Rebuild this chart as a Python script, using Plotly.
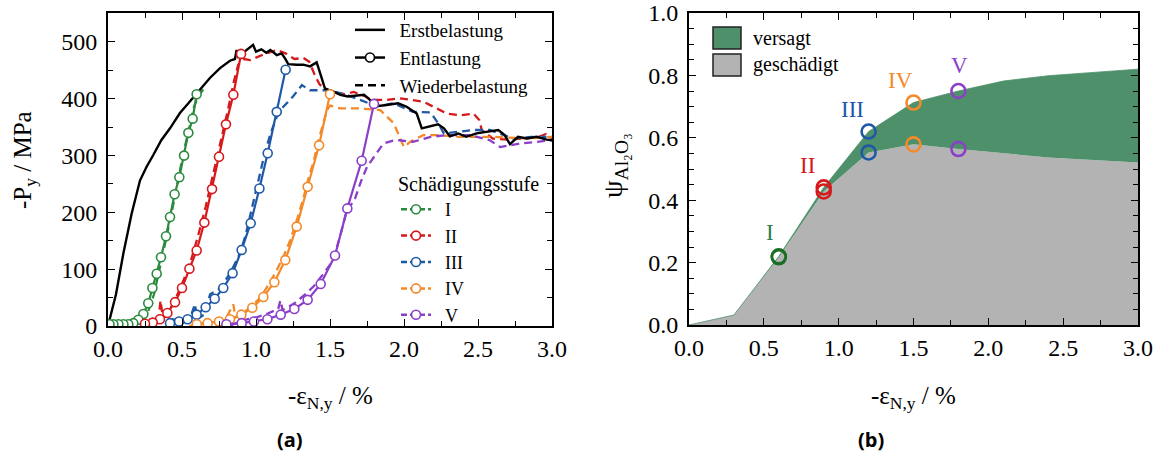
import plotly.graph_objects as go

W, H = 1165, 455

# ---------------- (a) load-strain curves ----------------
first_x = [0, 0.054, 0.104, 0.16, 0.216, 0.26, 0.306, 0.36, 0.419, 0.486, 0.543, 0.60, 0.69, 0.757,
           0.824, 0.858, 0.869, 0.88, 0.937, 0.98, 1.0, 1.036, 1.07, 1.097, 1.14, 1.173, 1.196, 1.218,
           1.275, 1.32, 1.365, 1.41, 1.437, 1.466, 1.52, 1.57, 1.62, 1.68, 1.73, 1.77, 1.815, 1.883,
           1.96, 2.018, 2.086, 2.12, 2.164, 2.23, 2.27, 2.31, 2.367, 2.42, 2.49, 2.56, 2.637, 2.68,
           2.716, 2.77, 2.83, 2.896, 2.964, 3.0]
first_y = [0, 56, 128, 198, 256, 280, 301, 327, 348, 375, 392, 410, 437, 454,
           467, 470, 486, 474, 486, 495, 483, 487, 481, 486, 477, 480, 471, 461,
           460, 460, 457, 464, 442, 418, 413, 407, 404, 406, 407, 398, 387, 389,
           392, 386, 374, 348, 351, 355, 348, 334, 339, 333, 339, 342, 345, 336,
           320, 333, 330, 333, 328, 327]

stages = ["I", "II", "III", "IV", "V"]
colors = ["#2b8a3e", "#d7191c", "#1f58a6", "#f4892a", "#8b3fc9"]

# unloading branches (Entlastung)
unload_x = [
    [0.599, 0.572, 0.543, 0.514, 0.482, 0.450, 0.419, 0.392, 0.358, 0.329, 0.300, 0.272, 0.239,
     0.205, 0.171, 0.137, 0.104, 0.070, 0.036, 0.010],
    [0.899, 0.847, 0.797, 0.750, 0.703, 0.651, 0.599, 0.550, 0.500, 0.453, 0.401, 0.351, 0.302, 0.250],
    [1.200, 1.140, 1.079, 1.023, 0.964, 0.903, 0.842, 0.779, 0.721, 0.660, 0.599, 0.538, 0.480, 0.419],
    [1.500, 1.426, 1.349, 1.275, 1.198, 1.124, 1.050, 0.975, 0.901, 0.824, 0.750, 0.673, 0.600],
    [1.797, 1.714, 1.617, 1.534, 1.437, 1.349, 1.259, 1.167, 1.077, 0.986, 0.903, 0.800],
]
unload_y = [
    [408, 365, 340, 300, 262, 232, 192, 158, 121, 92, 67, 40, 21, 11, 5, 3, 3, 3, 3, 3],
    [479, 407, 355, 298, 241, 182, 133, 101, 67, 42, 23, 12, 6, 4],
    [451, 377, 304, 242, 181, 134, 93, 67, 48, 33, 20, 12, 8, 5],
    [408, 318, 245, 175, 116, 77, 51, 32, 20, 12, 8, 5, 3],
    [391, 291, 207, 124, 74, 46, 30, 20, 12, 8, 5, 3],
]

# reloading branches (Wiederbelastung)
reload_x = [
    [0.05, 0.15, 0.22, 0.27, 0.31, 0.35, 0.39, 0.43, 0.47, 0.51, 0.55, 0.58, 0.61, 0.66],
    [0.25, 0.30, 0.34, 0.355, 0.37, 0.41, 0.46, 0.51, 0.56, 0.61, 0.66, 0.71, 0.76, 0.81, 0.85,
     0.88, 0.92, 0.96, 1.05, 1.14, 1.2, 1.26, 1.32, 1.36, 1.40, 1.43, 1.47, 1.52, 1.60, 1.66,
     1.74, 1.78, 1.88, 1.97, 2.13, 2.20, 2.29, 2.38, 2.47, 2.51, 2.525, 2.60, 2.70, 2.80, 2.90,
     2.96, 3.0],
    [0.42, 0.45, 0.47, 0.50, 0.55, 0.588, 0.60, 0.65, 0.69, 0.75, 0.824, 0.89, 0.93, 0.98, 1.02,
     1.06, 1.10, 1.14, 1.185, 1.25, 1.31, 1.365, 1.43, 1.50, 1.61, 1.70, 1.815, 1.93, 2.06, 2.18,
     2.23, 2.27, 2.37, 2.47, 2.58, 2.65, 2.74, 2.86, 3.0],
    [0.55, 0.62, 0.70, 0.80, 0.847, 0.86, 0.95, 1.03, 1.09, 1.14, 1.19, 1.23, 1.28, 1.32, 1.36,
     1.39, 1.42, 1.455, 1.48, 1.50, 1.57, 1.70, 1.84, 1.93, 1.97, 2.0, 2.04, 2.13, 2.22, 2.38,
     2.6, 2.85, 3.0],
    [0.82, 0.91, 1.0, 1.08, 1.15, 1.165, 1.18, 1.26, 1.33, 1.39, 1.45, 1.52, 1.57, 1.61, 1.67,
     1.71, 1.75, 1.815, 1.86, 1.92, 1.97, 2.06, 2.18, 2.29, 2.45, 2.58, 2.65, 2.78, 2.9, 3.0],
]
reload_y = [
    [0, 2, 8, 25, 55, 100, 150, 200, 255, 305, 350, 385, 405, 422],
    [2, 3, 8, 45, 15, 25, 50, 80, 115, 160, 210, 265, 320, 380, 430,
     460, 470, 468, 478, 486, 480, 470, 472, 465, 440, 425, 418, 410, 408, 412,
     404, 398, 398, 401, 395, 386, 374, 371, 374, 362, 345, 330, 328, 330, 332,
     338, 330],
    [1, 18, 3, 5, 10, 39, 12, 20, 56, 65, 92, 127, 160, 215, 260,
     305, 340, 368, 386, 404, 424, 415, 415, 415, 407, 398, 387, 392, 377, 376,
     357, 339, 342, 345, 345, 339, 330, 333, 333],
    [0, 4, 8, 15, 38, 15, 30, 50, 75, 98, 125, 150, 190, 225, 265,
     290, 325, 355, 380, 388, 383, 383, 380, 357, 333, 315, 324, 336, 336, 333,
     333, 330, 333],
    [0, 10, 15, 22, 30, 45, 28, 40, 55, 70, 90, 115, 160, 200, 225,
     255, 280, 304, 321, 326, 327, 324, 333, 336, 336, 327, 315, 321, 324, 327],
]

# ---------------- (b) damage fractions ----------------
psi_x = [0, 0.3, 0.6, 0.9, 1.2, 1.5, 1.8, 2.1, 2.4, 3.0]
psi_damaged = [0, 0.032, 0.217, 0.428, 0.553, 0.579, 0.564, 0.550, 0.537, 0.521]
psi_total = [0, 0.032, 0.220, 0.441, 0.620, 0.713, 0.750, 0.782, 0.799, 0.820]
stage_strain = [0.6, 0.9, 1.2, 1.5, 1.8]
stage_damaged = [0.217, 0.428, 0.553, 0.579, 0.564]
stage_total = [0.220, 0.441, 0.620, 0.713, 0.750]
stage_label_x = [0.54, 0.79, 1.09, 1.414, 1.806]
stage_label_y = [0.295, 0.51, 0.692, 0.785, 0.833]
b_colors = ["#1c6e24", "#d7191c", "#1f58a6", "#f4892a", "#8b3fc9"]
b_label_colors = ["#2e7d4f", "#d7191c", "#1f58a6", "#f4892a", "#8b3fc9"]

SERIF = "Liberation Serif, Times New Roman, serif"
DASH = "8px,5px"
GAP = "\u00a0\u00a0"   # extra space between legend symbol and label


def px_x(p):
    return p / W


def px_y(p):
    return 1 - p / H


fig = go.Figure()

# reloading (dashed)
for i, s in enumerate(stages):
    fig.add_trace(go.Scatter(
        x=reload_x[i], y=reload_y[i], mode="lines",
        line=dict(color=colors[i], width=2.3, dash=DASH),
        showlegend=False, xaxis="x", yaxis="y"))

# first loading
fig.add_trace(go.Scatter(
    x=first_x, y=first_y, mode="lines", line=dict(color="black", width=2.4),
    showlegend=False, xaxis="x", yaxis="y"))

# unloading with markers
for i, s in enumerate(stages):
    fig.add_trace(go.Scatter(
        x=unload_x[i], y=unload_y[i], mode="lines+markers",
        line=dict(color=colors[i], width=2.2),
        marker=dict(symbol="circle", size=9, color="white",
                    line=dict(color=colors[i], width=1.6)),
        showlegend=False, xaxis="x", yaxis="y"))

# legend entries: line styles
fig.add_trace(go.Scatter(x=[None], y=[None], mode="lines", name=GAP + "Erstbelastung",
                         line=dict(color="black", width=2.5), legend="legend"))
fig.add_trace(go.Scatter(x=[None], y=[None], mode="lines+markers", name=GAP + "Entlastung",
                         line=dict(color="black", width=2.5),
                         marker=dict(symbol="circle", size=9, color="white",
                                     line=dict(color="black", width=1.6)),
                         legend="legend"))
fig.add_trace(go.Scatter(x=[None], y=[None], mode="lines", name=GAP + "Wiederbelastung",
                         line=dict(color="black", width=2.5, dash=DASH), legend="legend"))
# legend entries: damage stages
for i, s in enumerate(stages):
    fig.add_trace(go.Scatter(x=[None], y=[None], mode="lines+markers", name=GAP + s,
                             line=dict(color=colors[i], width=2.5, dash="6px,3px"),
                             marker=dict(symbol="circle", size=9, color="white",
                                         line=dict(color=colors[i], width=1.6)),
                             legend="legend2"))

# (b) areas
fig.add_trace(go.Scatter(x=psi_x, y=psi_damaged, mode="lines", fill="tozeroy",
                         fillcolor="#b3b3b3", line=dict(width=0, color="#b3b3b3"),
                         showlegend=False, xaxis="x2", yaxis="y2"))
fig.add_trace(go.Scatter(x=psi_x, y=psi_total, mode="lines", fill="tonexty",
                         fillcolor="#4e9069", line=dict(width=0.8, color="#4e9069"),
                         showlegend=False, xaxis="x2", yaxis="y2"))
# (b) stage markers
for i, s in enumerate(stages):
    fig.add_trace(go.Scatter(
        x=[stage_strain[i], stage_strain[i]], y=[stage_total[i], stage_damaged[i]],
        mode="markers",
        marker=dict(symbol="circle-open", size=14, color=b_colors[i],
                    line=dict(width=2.6, color=b_colors[i])),
        showlegend=False, xaxis="x2", yaxis="y2"))

annotations = []
for i, s in enumerate(stages):
    annotations.append(dict(x=stage_label_x[i], y=stage_label_y[i], xref="x2", yref="y2",
                            text=s, showarrow=False, xanchor="center", yanchor="middle",
                            font=dict(family=SERIF, size=23, color=b_label_colors[i])))


def paper_text(x, y, text, size, family=SERIF, angle=0, xanchor="center"):
    return dict(x=px_x(x), y=px_y(y), xref="paper", yref="paper", text=text,
                textangle=angle, showarrow=False, xanchor=xanchor, yanchor="middle",
                font=dict(family=family, size=size, color="black"))


# axis titles, panel labels and the area key of panel (b)
annotations += [
    paper_text(24, 160, "-P<sub>y</sub> / MPa", 25, angle=-90),
    paper_text(614, 165, "ψ<sub>Al₂O₃</sub>", 28, angle=-90),
    paper_text(330, 397, "-ε<sub>N,y</sub> / %", 25),
    paper_text(913, 397, "-ε<sub>N,y</sub> / %", 25),
    paper_text(290, 439, "<b>(a)</b>", 20, family="Open Sans"),
    paper_text(871, 439, "<b>(b)</b>", 20, family="Open Sans"),
    paper_text(751, 38, "versagt", 20, xanchor="left"),
    paper_text(751, 65, "geschädigt", 20, xanchor="left"),
]

shapes = [
    dict(type="rect", xref="paper", yref="paper", x0=px_x(713), x1=px_x(741),
         y0=px_y(49), y1=px_y(27), fillcolor="#4e9069", line=dict(color="#222", width=1.5)),
    dict(type="rect", xref="paper", yref="paper", x0=px_x(713), x1=px_x(741),
         y0=px_y(76), y1=px_y(54), fillcolor="#b3b3b3", line=dict(color="#222", width=1.5)),
]

ax_common = dict(showline=True, linecolor="black", linewidth=1.8, mirror="allticks",
                 ticks="inside", ticklen=7, tickwidth=1.4, tickcolor="black",
                 showgrid=False, zeroline=False, automargin=False,
                 tickfont=dict(family=SERIF, size=24, color="black"))

fig.update_layout(
    template="none",
    width=W, height=H, margin=dict(l=0, r=0, t=0, b=0, pad=0, autoexpand=False),
    paper_bgcolor="white", plot_bgcolor="white",
    font=dict(family=SERIF, color="black"),
    xaxis=dict(domain=[px_x(108), px_x(552)], range=[0, 3], anchor="y",
               tickvals=[0, 0.5, 1, 1.5, 2, 2.5, 3],
               ticktext=["0.0", "0.5", "1.0", "1.5", "2.0", "2.5", "3.0"],
               minor=dict(ticks="inside", ticklen=5, dtick=0.25, tickcolor="black", tickwidth=1.2),
               **ax_common),
    yaxis=dict(domain=[px_y(326), px_y(13)], range=[0, 551], anchor="x",
               dtick=100, minor=dict(ticks="inside", ticklen=5, dtick=50, tickcolor="black",
                                     tickwidth=1.2),
               ticklabelstandoff=4, **ax_common),
    xaxis2=dict(domain=[px_x(689), px_x(1138)], range=[0, 3], anchor="y2",
                tickvals=[0, 0.5, 1, 1.5, 2, 2.5, 3],
                ticktext=["0.0", "0.5", "1.0", "1.5", "2.0", "2.5", "3.0"],
                minor=dict(ticks="inside", ticklen=5, dtick=0.25, tickcolor="black", tickwidth=1.2),
                **ax_common),
    yaxis2=dict(domain=[px_y(325), px_y(13)], range=[0, 1], anchor="x2",
                tickvals=[0, 0.2, 0.4, 0.6, 0.8, 1.0],
                ticktext=["0.0", "0.2", "0.4", "0.6", "0.8", "1.0"],
                minor=dict(ticks="inside", ticklen=5, dtick=0.05, tickcolor="black",
                           tickwidth=1.2),
                ticklabelstandoff=4, **ax_common),
    legend=dict(x=px_x(350), y=px_y(11), xanchor="left", yanchor="top",
                bgcolor="rgba(0,0,0,0)", font=dict(family=SERIF, size=19, color="black"),
                itemwidth=30, tracegroupgap=0, traceorder="normal"),
    legend2=dict(x=px_x(396), y=px_y(165), xanchor="left", yanchor="top",
                 bgcolor="rgba(0,0,0,0)", font=dict(family=SERIF, size=18, color="black"),
                 title=dict(text="Schädigungsstufe", font=dict(family=SERIF, size=20)),
                 itemwidth=30, tracegroupgap=0, traceorder="normal"),
    annotations=annotations, shapes=shapes,
)

fig.write_html("out.html")
